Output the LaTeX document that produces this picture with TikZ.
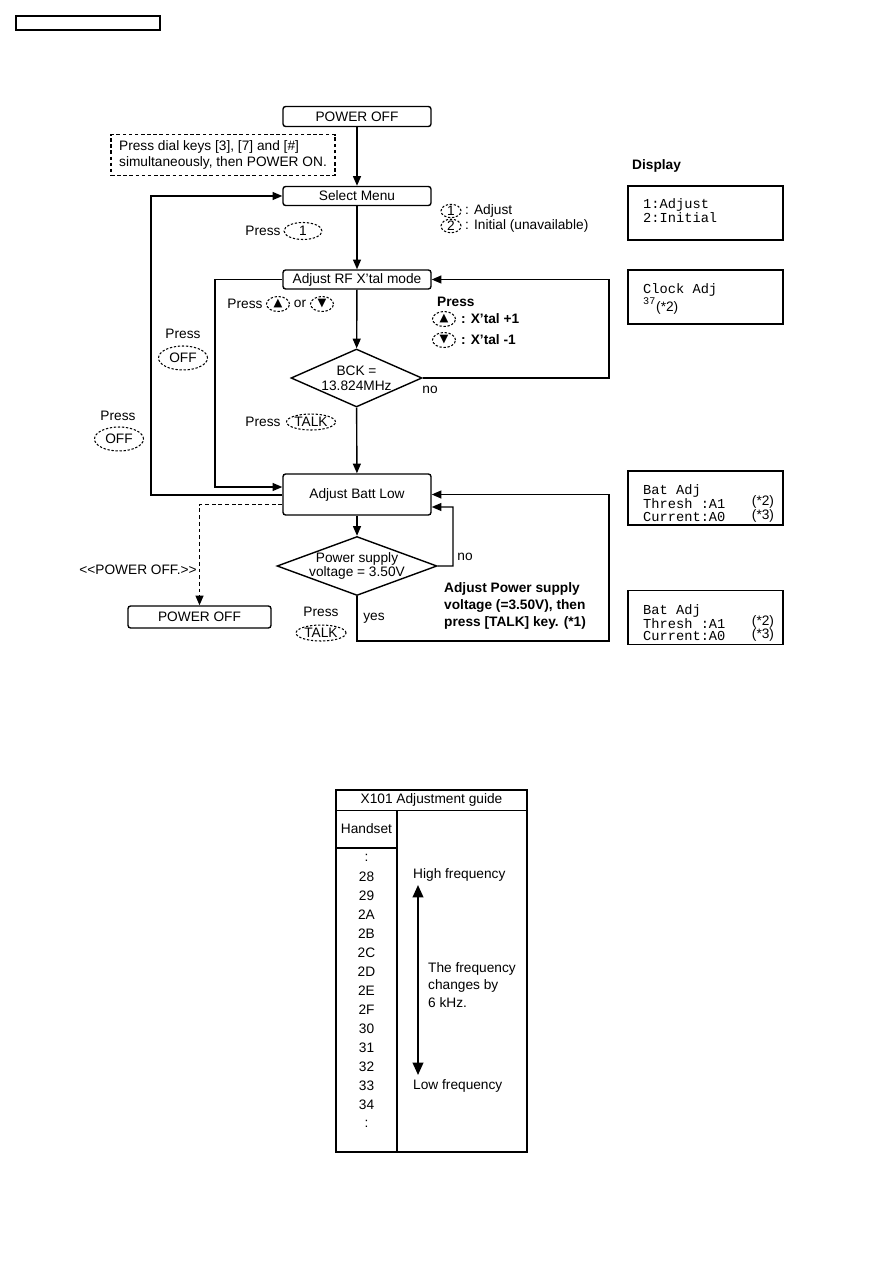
\documentclass[tikz,border=0pt]{standalone}
\usepackage{fontspec}
\setmainfont{Liberation Sans}
\setmonofont{Liberation Mono}
\newfontfamily\symfont{DejaVu Sans}
\usetikzlibrary{arrows.meta,positioning,calc,shapes.geometric}
\newcommand\flowfont{\fontsize{7.8}{9.2}\selectfont}
\newcommand\lcdfont{\fontsize{7.8}{7.2}\selectfont\ttfamily}
\newcommand\tri[1]{{\symfont\fontsize{6.5}{7}\selectfont #1}}

\begin{document}
\begin{tikzpicture}[x=0.02cm,y=-0.02cm,
  every node/.style={font=\flowfont},
  flowbox/.style={draw,line width=0.8pt,rounded corners=1.5pt,minimum width=2.96cm,minimum height=0.4cm,inner sep=1pt},
  decision/.style={diamond,draw,line width=0.8pt,inner sep=0pt},
  keyell/.style={ellipse,draw,line width=0.6pt,dash pattern=on 1.3pt off 1pt,inner sep=0pt},
  dispbox/.style={draw,line width=0.9pt,minimum width=3.1cm,minimum height=1.08cm},
  flow/.style={line width=0.8pt,-{Triangle[length=5.5pt,width=4.5pt]}},
  plain/.style={line width=0.8pt}]
  \useasboundingbox (0,0) rectangle (893,1263);
  % page header
  \draw[plain] (16,16) rectangle (160,30);

  % main column
  \node[flowbox] (pwron) at (357,116.5) {POWER OFF};
  \node[draw,line width=0.7pt,dash pattern=on 2pt off 1.5pt,minimum width=4.48cm,minimum height=0.8cm,align=left] (note) at (223,155) {Press dial keys [3], [7] and [\#]\\simultaneously, then POWER ON.};
  \node[flowbox,minimum height=0.38cm] (selmenu) at (357,196) {Select Menu};
  \node (press1) at (263,231) {Press};
  \node[keyell,minimum width=0.76cm,minimum height=0.34cm] (key1) at (303,231) {1};
  \node[keyell,minimum width=0.4cm,minimum height=0.24cm] (sel1) at (451,211) {1};
  \node[anchor=west] (sel1t) at (459,211) {: Adjust};
  \node[keyell,minimum width=0.4cm,minimum height=0.24cm] (sel2) at (451,226) {2};
  \node[anchor=west] (sel2t) at (459,226) {: Initial (unavailable)};

  % crystal adjust
  \node[flowbox,minimum height=0.38cm] (rfmode) at (357,279.5) {Adjust RF X'tal mode};
  \node (pressud) at (245,304) {Press};
  \node[keyell,minimum width=0.46cm,minimum height=0.3cm] (upk) at (278,304) {\tri{▲}};
  \node (ortxt) at (300,304) {or};
  \node[keyell,minimum width=0.46cm,minimum height=0.3cm] (dnk) at (322,304) {\tri{▼}};
  \node[anchor=west,font=\flowfont\bfseries] (pressb) at (431,302) {Press};
  \node[keyell,minimum width=0.46cm,minimum height=0.3cm] (upk2) at (444,319) {\tri{▲}};
  \node[anchor=west,font=\flowfont\bfseries] (xup) at (455,319) {: X'tal +1};
  \node[keyell,minimum width=0.46cm,minimum height=0.3cm] (dnk2) at (444,340) {\tri{▼}};
  \node[anchor=west,font=\flowfont\bfseries] (xdn) at (455,340) {: X'tal -1};
  \node[decision,minimum width=2.62cm,minimum height=1.16cm] (bck) at (356.5,378) {};
  \node[align=center,font=\fontsize{7.8}{8.6}\selectfont] (bckt) at (bck) {BCK =\\13.824MHz};
  \node (no1) at (430,390) {no};
  \node (presst) at (263,422) {Press};
  \node[keyell,minimum width=0.98cm,minimum height=0.32cm] (talk1) at (311,422) {TALK};

  % OFF keys
  \node (presso1) at (183,334) {Press};
  \node[keyell,minimum width=0.98cm,minimum height=0.48cm] (off1) at (183,358) {OFF};
  \node (presso2) at (118,416) {Press};
  \node[keyell,minimum width=0.98cm,minimum height=0.48cm] (off2) at (119,439) {OFF};

  % battery adjust
  \node[flowbox,minimum height=0.82cm] (battlow) at (357,494.5) {Adjust Batt Low};
  \node[decision,minimum width=3.2cm,minimum height=1.18cm] (vsup) at (357,566) {};
  \node[align=center,font=\fontsize{7.8}{8}\selectfont] (vsupt) at (vsup) {Power supply\\voltage = 3.50V};
  \node (no2) at (465,557) {no};
  \node (yes) at (374,618) {yes};
  \node (presst2) at (321,612) {Press};
  \node[keyell,minimum width=1cm,minimum height=0.32cm] (talk2) at (321,633) {TALK};
  \node[anchor=west,align=left,font=\fontsize{7.8}{9.9}\selectfont\bfseries] (adjnote) at (438,606) {Adjust Power supply\\voltage (=3.50V), then\\press [TALK] key. (*1)};
  \node[anchor=east,inner sep=0pt] (offmsg) at (197,570) {<{}<POWER OFF.>{}>};
  \node[flowbox,minimum width=2.86cm,minimum height=0.44cm] (pwroff) at (199.5,617) {POWER OFF};

  % connectors
  \draw[flow] (pwron) -- (selmenu);
  \draw[flow] (selmenu) -- (rfmode);
  \draw[flow] (rfmode) -- (bck);
  \draw[flow] (bck) -- (battlow);
  \draw[flow] (bck.east) -| (609,279.5) -- (rfmode.east);
  \draw[flow] (rfmode.west) -| (215,487) -- ($(battlow.west)+(0,-7.5)$);
  \draw[flow] ($(battlow.west)+(0,0.5)$) -| (151,196) -- (selmenu.west);
  \draw[flow,dash pattern=on 2.2pt off 1.6pt] ($(battlow.west)+(0,10)$) -| (pwroff.north);
  \draw[flow] (battlow) -- (vsup);
  \draw[flow] (vsup.east) -| (453,507) -- ($(battlow.east)+(0,12.5)$);
  \draw[flow] (vsup.south) |- (609,641) |- (battlow.east);

  % display
  \node[anchor=west,font=\flowfont\bfseries] (disp) at (626,166) {Display};
  \node[dispbox] (d1) at (705.5,213) {};
  \node[anchor=west,font=\lcdfont] (d1a) at (637,205) {1:Adjust};
  \node[anchor=west,font=\lcdfont] (d1b) at (637,218) {2:Initial};
  \node[dispbox] (d2) at (705.5,297) {};
  \node[anchor=west,font=\lcdfont] (d2a) at (637,290) {Clock Adj};
  \node[anchor=west,font=\fontsize{5.8}{6}\selectfont\ttfamily] (d2b) at (637,301) {37};
  \node[anchor=west] (d2c) at (650,308) {(*2)};
  \node[dispbox] (d3) at (705.5,498) {};
  \node[anchor=west,font=\lcdfont] (d3a) at (637,491) {Bat Adj};
  \node[anchor=west,font=\lcdfont] (d3b) at (637,504) {Thresh :A1};
  \node[anchor=west,font=\lcdfont] (d3c) at (637,517) {Current:A0};
  \node (d3d) at (763,502) {(*2)};
  \node (d3e) at (763,516) {(*3)};
  \node[dispbox] (d4) at (705.5,617.5) {};
  \node[anchor=west,font=\lcdfont] (d4a) at (637,611) {Bat Adj};
  \node[anchor=west,font=\lcdfont] (d4b) at (637,623.5) {Thresh :A1};
  \node[anchor=west,font=\lcdfont] (d4c) at (637,636) {Current:A0};
  \node (d4d) at (763,622) {(*2)};
  \node (d4e) at (763,635) {(*3)};

  % X101 guide table
  \draw[plain] (336,790) rectangle (527,1152);
  \draw[plain] (336,810.5) -- (527,810.5);
  \draw[plain] (397,810.5) -- (397,1152);
  \draw[plain] (336,848) -- (397,848);
  \node (guide) at (431.5,800) {X101 Adjustment guide};
  \node (hset) at (366.5,829) {Handset};
  \foreach \v [count=\i] in {:,28,29,2A,2B,2C,2D,2E,2F,30,31,32,33,34,:}
    \node (row\i) at (366.5,839+19*\i) {\v};
  \node[anchor=west] (hifreq) at (407,875) {High frequency};
  \node[anchor=west] (lofreq) at (407,1086) {Low frequency};
  \node[anchor=west,align=left,font=\fontsize{7.8}{9.8}\selectfont] (fchg) at (422,985) {The frequency\\changes by\\6 kHz.};
  \coordinate (ftop) at (418,885);
  \coordinate (fbot) at (418,1075);
  \draw[line width=1.1pt,{Triangle[length=7pt,width=6pt]}-{Triangle[length=7pt,width=6pt]}] (ftop) -- (fbot);
\end{tikzpicture}
\end{document}
